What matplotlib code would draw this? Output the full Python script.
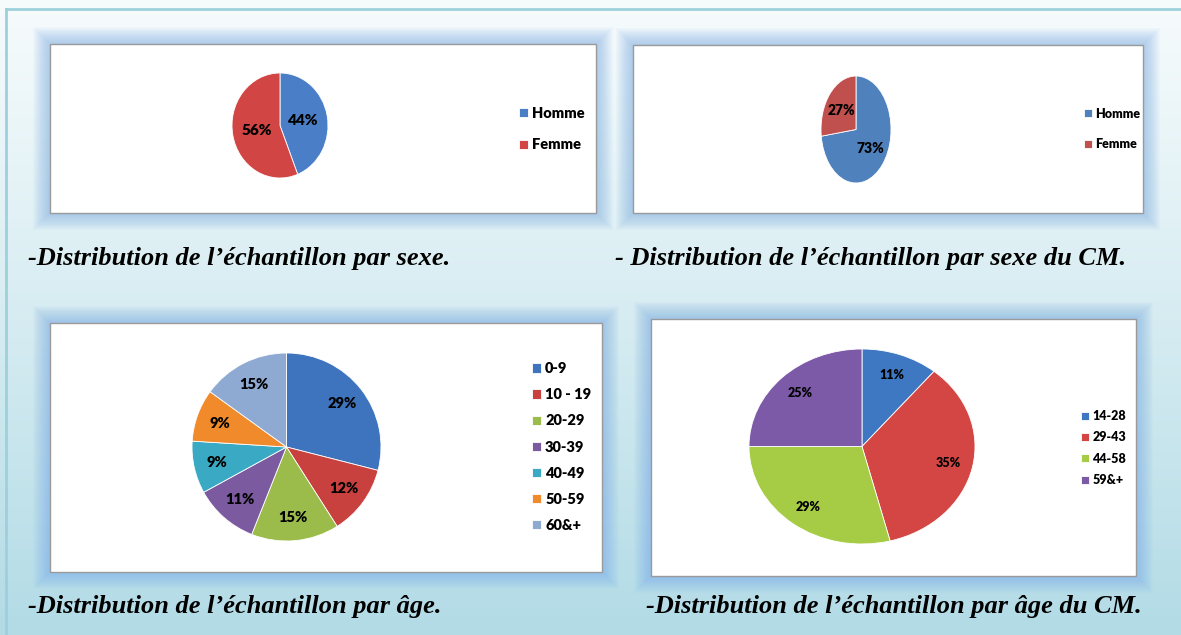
import numpy as np
import matplotlib
matplotlib.use('Agg')
import matplotlib.pyplot as plt
from matplotlib.patches import Rectangle

W, H = 1181, 635

# data
sexe_labels = ['Homme', 'Femme']
sexe_values = [44, 56]
sexe_cm_labels = ['Homme', 'Femme']
sexe_cm_values = [73, 27]
age_labels = ['0-9', '10 - 19', '20-29', '30-39', '40-49', '50-59', '60&+']
age_values = [29, 12, 15, 11, 9, 9, 15]
age_cm_labels = ['14-28', '29-43', '44-58', '59&+']
age_cm_values = [11, 35, 29, 25]

captions = [
    '-Distribution de l\u2019\u00e9chantillon par sexe.',
    '- Distribution de l\u2019\u00e9chantillon par sexe du CM.',
    '-Distribution de l\u2019\u00e9chantillon par \u00e2ge.',
    '-Distribution de l\u2019\u00e9chantillon par \u00e2ge du CM.',
]

sexe_colors = ['#4a7fc8', '#d24545']
sexe_cm_colors = ['#4f81bd', '#c0504d']
age_colors = ['#3d74bd', '#c8413f', '#9bbb4a', '#7b5aa0', '#3aaac4', '#f08a2a', '#8ea9d2']
age_cm_colors = ['#3f78c2', '#d44644', '#a6cc45', '#7d5aa8']

fig = plt.figure(figsize=(W / 100, H / 100), dpi=100)

# background gradient + panels, drawn in pixel coordinates
bg = fig.add_axes([0, 0, 1, 1], zorder=-10)
grad = np.linspace(0, 1, 256).reshape(-1, 1)
top = np.array([0xf6, 0xfb, 0xfc]) / 255
bot = np.array([0xb2, 0xdb, 0xe6]) / 255
img = top + (bot - top) * grad[..., None] ** 1.1
bg.imshow(img, extent=[0, W, H, 0], aspect='auto', interpolation='bicubic')
bg.set_xlim(0, W)
bg.set_ylim(H, 0)
bg.axis('off')

bg.plot([6, 6], [9, H], color='#9dd0dc', lw=2)
bg.plot([6, W], [9, 9], color='#9dd0dc', lw=2)

panels = [(50, 44, 596, 213), (633, 45, 1143, 213), (50, 323, 602, 572), (651, 319, 1136, 576)]
for l, t, r, b in panels:
    for i in np.arange(17, 0, -1):
        bg.add_patch(Rectangle((l - i, t - i), r - l + 2 * i, b - t + 2 * i,
                               facecolor='#78abe8', edgecolor='none', alpha=0.04))
    bg.add_patch(Rectangle((l, t), r - l, b - t, facecolor='white', edgecolor='#9a9a9a', lw=1))

cap_pos = [(28, 258), (615, 258), (28, 607), (646, 607)]
for (x, y), txt in zip(cap_pos, captions):
    bg.text(x, y, txt, fontsize=19, fontweight='bold', fontstyle='italic',
            family='Liberation Serif', va='center', ha='left', color='black')


def pie_box(l, t, r, b):
    ax = fig.add_axes([l / W, 1 - b / H, (r - l) / W, (b - t) / H])
    return ax


def draw_pie(box, values, labels, colors, pctd, fs, leg_x, leg_yc, spacing, leg_fs):
    ax = pie_box(*box)
    wedges, _, autotexts = ax.pie(values, colors=colors, startangle=90, counterclock=False,
                                  autopct='%d%%', pctdistance=pctd,
                                  wedgeprops=dict(edgecolor='white', linewidth=0.6),
                                  textprops=dict(fontsize=fs, fontweight='heavy',
                                                 family='Lato', color='black'))
    ax.set_aspect('auto')
    ax.set_xlim(-1, 1)
    ax.set_ylim(-1, 1)
    ax.axis('off')
    fig.legend(wedges, labels, loc='center left', bbox_to_anchor=(leg_x / W, 1 - leg_yc / H),
               frameon=False, handlelength=0.6, handleheight=0.6, handletextpad=0.3,
               labelspacing=spacing, borderpad=0, borderaxespad=0,
               prop=dict(size=leg_fs, weight='heavy', family='Lato'))
    return ax


draw_pie((232, 73, 328, 178), sexe_values, sexe_labels, sexe_colors, 0.5, 11,
         519, 129, 1.3, 10.5)
draw_pie((821, 76, 891, 183), sexe_cm_values, sexe_cm_labels, sexe_cm_colors, 0.55, 10,
         1084, 129, 1.5, 9)
draw_pie((192, 353, 381, 541), age_values, age_labels, age_colors, 0.75, 10.5,
         532, 447, 0.9, 10.5)
draw_pie((749, 349, 975, 544), age_cm_values, age_cm_labels, age_cm_colors, 0.78, 9,
         1081, 448, 0.75, 9)

fig.savefig('out.png', dpi=100)
